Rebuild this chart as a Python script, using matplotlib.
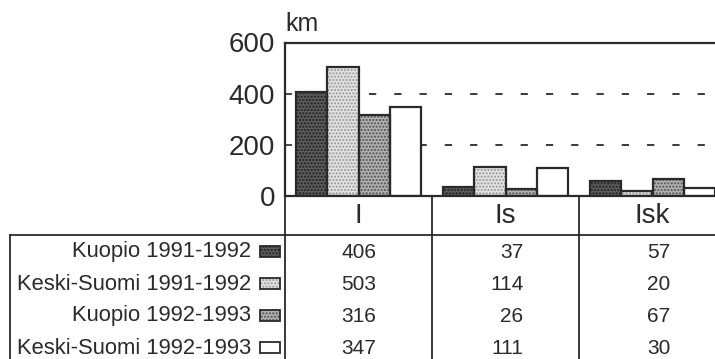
import matplotlib
matplotlib.use("Agg")
import matplotlib.pyplot as plt
from matplotlib.patches import Rectangle

plt.rcParams['font.family'] = ['Liberation Sans', 'DejaVu Sans']

groups = ["I", "Is", "Isk"]
series = ["Kuopio 1991-1992", "Keski-Suomi 1991-1992",
          "Kuopio 1992-1993", "Keski-Suomi 1992-1993"]
kuopio_91 = [406, 37, 57]
keski_91 = [503, 114, 20]
kuopio_92 = [316, 26, 67]
keski_92 = [347, 111, 30]
values = [kuopio_91, keski_91, kuopio_92, keski_92]

faces = ['#5c5c5c', '#e2e2e2', '#b0b0b0', 'white']
dots = ['#1e1e1e', '#969696', '#505050', 'white']
ink = '#2a2a2a'

W, H = 715, 359
fig = plt.figure(figsize=(W / 100, H / 100), dpi=100)

# pixel layout
col_x0, col_w = 285, 147
y_top, y_zero = 42.5, 196
tab_top, row_h = 235, 32

# table layer in pixel coordinates
tab = fig.add_axes([0, 0, 1, 1])
tab.set_xlim(0, W)
tab.set_ylim(H, 0)
tab.axis('off')

ax = fig.add_axes([col_x0 / W, (H - y_zero) / H, 3 * col_w / W, (y_zero - y_top) / H])
ax.set_xlim(-0.5, 2.5)
ax.set_ylim(0, 600)

bw = 0.211
for k, vals in enumerate(values):
    xs = [i + (k - 1.5) * bw for i in range(len(groups))]
    ax.bar(xs, vals, bw, color=faces[k], edgecolor=dots[k], hatch='.....',
           linewidth=0, zorder=2)
    ax.bar(xs, vals, bw, facecolor='none', edgecolor=ink, linewidth=1.6, zorder=3)

ax.hlines([200, 400], 0.07, 2.5, colors=ink, linestyles=(0, (4, 10)),
          linewidth=1.3, zorder=1)

for s in ax.spines.values():
    s.set_linewidth(1.6)
    s.set_color(ink)
ax.set_xticks([])
ax.set_yticks([0, 200, 400, 600])
ax.tick_params(axis='y', direction='in', length=5, width=1.2, color=ink,
               labelsize=20, labelcolor=ink, pad=7)
ax.text(0.0, 1.04, "km", transform=ax.transAxes, fontsize=18, color=ink,
        ha='left', va='bottom')

# table lines
for k in range(4):
    x = col_x0 + k * col_w
    tab.plot([x, x], [y_zero, H], color=ink, lw=1.3)
tab.plot([10, W], [tab_top, tab_top], color=ink, lw=1.3)
tab.plot([10, 10], [tab_top, H], color=ink, lw=1.3)

for i, g in enumerate(groups):
    cx = col_x0 + (i + 0.5) * col_w
    tab.text(cx, 216, g, fontsize=20, color=ink, ha='center', va='center')

for k, name in enumerate(series):
    cy = tab_top + (k + 0.5) * row_h + 1
    tab.text(251, cy, name, fontsize=15.8, color=ink, ha='right', va='center')
    tab.add_patch(Rectangle((260, cy - 6), 20, 11, facecolor=faces[k],
                            edgecolor=dots[k], hatch='.....', lw=0))
    tab.add_patch(Rectangle((260, cy - 6), 20, 11, facecolor='none',
                            edgecolor=ink, lw=1.3))
    for i, v in enumerate(values[k]):
        cx = col_x0 + (i + 0.5) * col_w
        tab.text(cx + 18, cy, str(v), fontsize=15, color=ink, ha='right', va='center')

fig.savefig("out.png", dpi=100)
